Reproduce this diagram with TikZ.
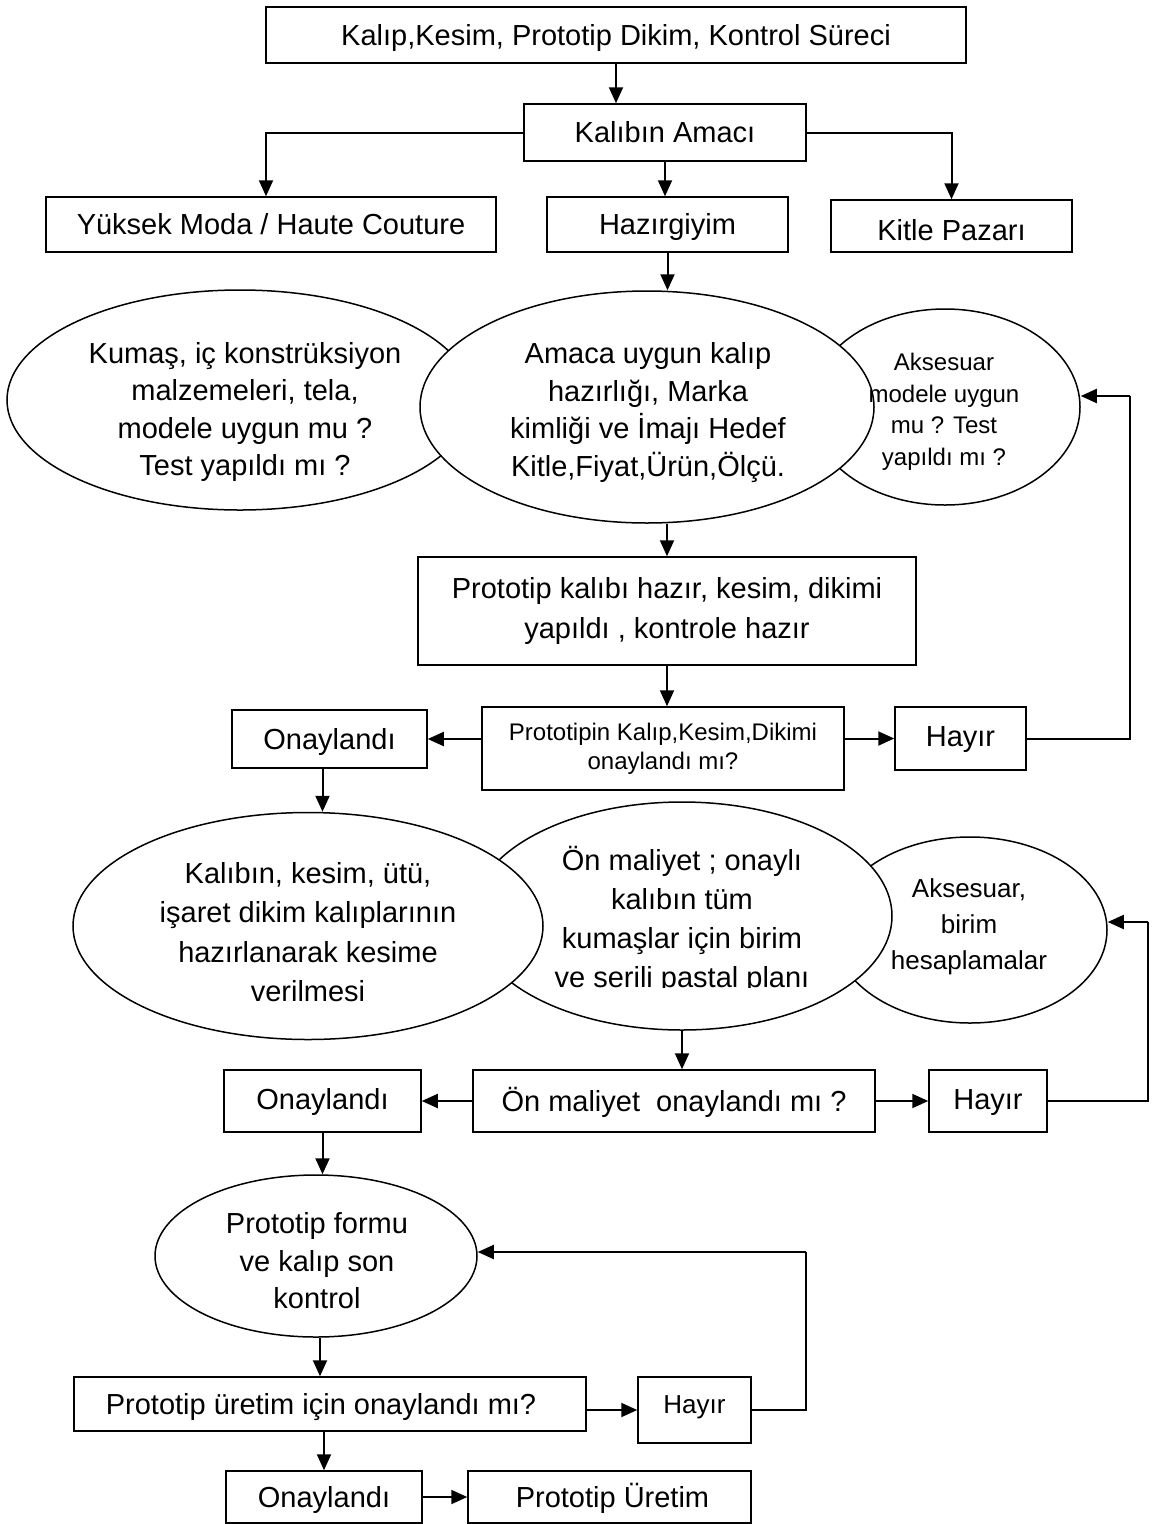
\documentclass[tikz,border=0pt]{standalone}
\usepackage{fontspec}
\setmainfont{Liberation Sans}
\usetikzlibrary{arrows.meta,shapes.geometric}
\begin{document}
\begin{tikzpicture}[x=1pt,y=-1pt,
  base/.style={draw=black, line width=1.5pt, fill=white, align=center, inner sep=0pt,
               font=\fontsize{29}{37.5}\selectfont},
  box/.style={base, rectangle},
  onebox/.style={box, text height=26pt, text depth=6pt},
  oval/.style={base, ellipse},
  txt/.style={align=center, inner sep=0pt, font=\fontsize{29}{37.5}\selectfont},
  arr/.style={line width=2pt, -{Triangle[length=16pt,width=14pt]}},
  link/.style={line width=2pt}]
\useasboundingbox (0,0) rectangle (1152,1524);
\fill[white] (0,0) rectangle (1152,1524);

% --- top: process and purpose of the pattern
\node[onebox, minimum width=700, minimum height=56] (title) at (616,35)
  {Kalıp,Kesim, Prototip Dikim, Kontrol Süreci};
\node[onebox, minimum width=282, minimum height=57] (purpose) at (665,132.5) {Kalıbın Amacı};
\node[onebox, minimum width=450, minimum height=55] (haute) at (271,224.5) {Yüksek Moda / Haute Couture};
\node[onebox, minimum width=241, minimum height=55] (ready) at (667.5,224.5) {Hazırgiyim};
\node[onebox, minimum width=241, minimum height=52] (mass) at (951.5,226) {\raisebox{-4pt}{Kitle Pazarı}};

\draw[arr] (title.south) -- (title.south |- purpose.north);
\coordinate (hauteTop) at ([xshift=-5pt]haute.north);
\draw[arr] (purpose.west) -| (hauteTop);
\draw[arr] (purpose.east) -| (mass.north);
\draw[arr] (purpose.south) -- (purpose.south |- ready.north);

% --- first row of ellipses
\node[oval, minimum width=466, minimum height=220] (fabric) at (240,400) {};
\node[oval, minimum width=270, minimum height=196] (acc1) at (945,407) {};
\node[oval, minimum width=454, minimum height=232] (aim) at (647,407) {};
\node[txt] (fabrictext) at (245,412)
  {Kumaş, iç konstrüksiyon\\malzemeleri, tela,\\modele uygun mu ?\\Test yapıldı mı ?};
\node[txt] (aimtext) at (648,412.5)
  {Amaca uygun kalıp\\hazırlığı, Marka\\kimliği ve İmajı Hedef\\Kitle,Fiyat,Ürün,Ölçü.};
\node[txt, font=\fontsize{24}{31.5}\selectfont] (acc1text) at (944,412)
  {Aksesuar\\modele uygun\\mu ? Test\\yapıldı mı ?};

\draw[arr] (ready.south) -- (ready.south |- aim.north);

% --- prototype check
\node[box, minimum width=498, minimum height=108, font=\fontsize{29}{40}\selectfont] (proto) at (667,611)
  {Prototip kalıbı hazır, kesim, dikimi\\yapıldı , kontrole hazır};
\draw[arr] (proto.north |- aim.south) -- (proto.north);

\node[box, minimum width=362, minimum height=83, font=\fontsize{24}{29}\selectfont] (check) at (663,748.5)
  {Prototipin Kalıp,Kesim,Dikimi\\onaylandı mı?};
\node[onebox, minimum width=195, minimum height=58] (ok1) at (329.5,739) {Onaylandı};
\node[onebox, minimum width=131, minimum height=63] (no1) at (960.5,738.5) {\raisebox{2pt}{Hayır}};

\draw[arr] (proto.south) -- (proto.south |- check.north);
\draw[arr] (check.west |- ok1.east) -- (ok1.east);
\draw[arr] (check.east |- no1.west) -- (no1.west);
\coordinate (back1) at (1130,396);
\draw[link] (no1.east) -| (back1);
\draw[arr] (back1) -- (acc1.east |- back1);

% --- second row of ellipses
\node[oval, minimum width=274, minimum height=186] (acc2) at (970,930) {};
\node[txt, font=\fontsize{26}{36}\selectfont] (acc2text) at (969,927)
  {Aksesuar,\\birim\\hesaplamalar};
\node[oval, minimum width=420, minimum height=228] (cost) at (682,916) {};
\begin{scope}
  \clip (540,800) rectangle (830,987);
  \node[txt, font=\fontsize{29}{39}\selectfont] (costtext) at (682,920)
    {Ön maliyet ; onaylı\\kalıbın tüm\\kumaşlar için birim\\ve serili pastal planı};
\end{scope}
\node[oval, minimum width=470, minimum height=227] (cutting) at (308,926) {};
\node[txt, font=\fontsize{29}{39.5}\selectfont] (cuttingtext) at (308,932)
  {Kalıbın, kesim, ütü,\\işaret dikim kalıplarının\\hazırlanarak kesime\\verilmesi};

\coordinate (ok1foot) at ([xshift=-7pt]ok1.south);
\draw[arr] (ok1foot) -- (ok1foot |- cutting.north);

% --- cost approval
\node[onebox, minimum width=402, minimum height=62] (costq) at (674,1101) {Ön maliyet~ onaylandı mı ?};
\node[onebox, minimum width=197, minimum height=62] (ok2) at (322.5,1101) {\raisebox{2pt}{Onaylandı}};
\node[onebox, minimum width=118, minimum height=62] (no2) at (988,1101) {\raisebox{2pt}{Hayır}};

\draw[arr] (cost.south) -- (cost.south |- costq.north);
\draw[arr] (costq.west) -- (ok2.east);
\draw[arr] (costq.east) -- (no2.west);
\coordinate (back2) at (1148,922);
\draw[link] (no2.east) -| (back2);
\draw[arr] (back2) -- (acc2.east |- back2);

% --- final control
\node[oval, minimum width=322, minimum height=162] (final) at (316,1256) {};
\node[txt] (finaltext) at (317,1261) {Prototip formu\\ve kalıp son\\kontrol};
\draw[arr] (ok2.south) -- (ok2.south |- final.north);

\node[onebox, minimum width=512, minimum height=54] (prodq) at (330,1404)
  {Prototip üretim için onaylandı mı?\hspace{18pt}};
\node[onebox, minimum width=113, minimum height=66, font=\fontsize{26}{30}\selectfont] (no3) at (694.5,1410)
  {\raisebox{7pt}{Hayır}};
\node[onebox, minimum width=196, minimum height=52] (ok3) at (324,1497) {Onaylandı};
\node[onebox, minimum width=283, minimum height=52] (prod) at (609.5,1497) {\hspace{6pt}Prototip Üretim};

\coordinate (finalfoot) at ([xshift=4pt]final.south);
\draw[arr] (finalfoot) -- (finalfoot |- prodq.north);
\draw[arr] (prodq.east |- no3.west) -- (no3.west);
\coordinate (back3) at (806,1252);
\draw[link] (no3.east) -| (back3);
\draw[arr] (back3) -- (final.east |- back3);
\draw[arr] (ok3.north |- prodq.south) -- (ok3.north);
\draw[arr] (ok3.east) -- (prod.west);
\end{tikzpicture}
\end{document}
